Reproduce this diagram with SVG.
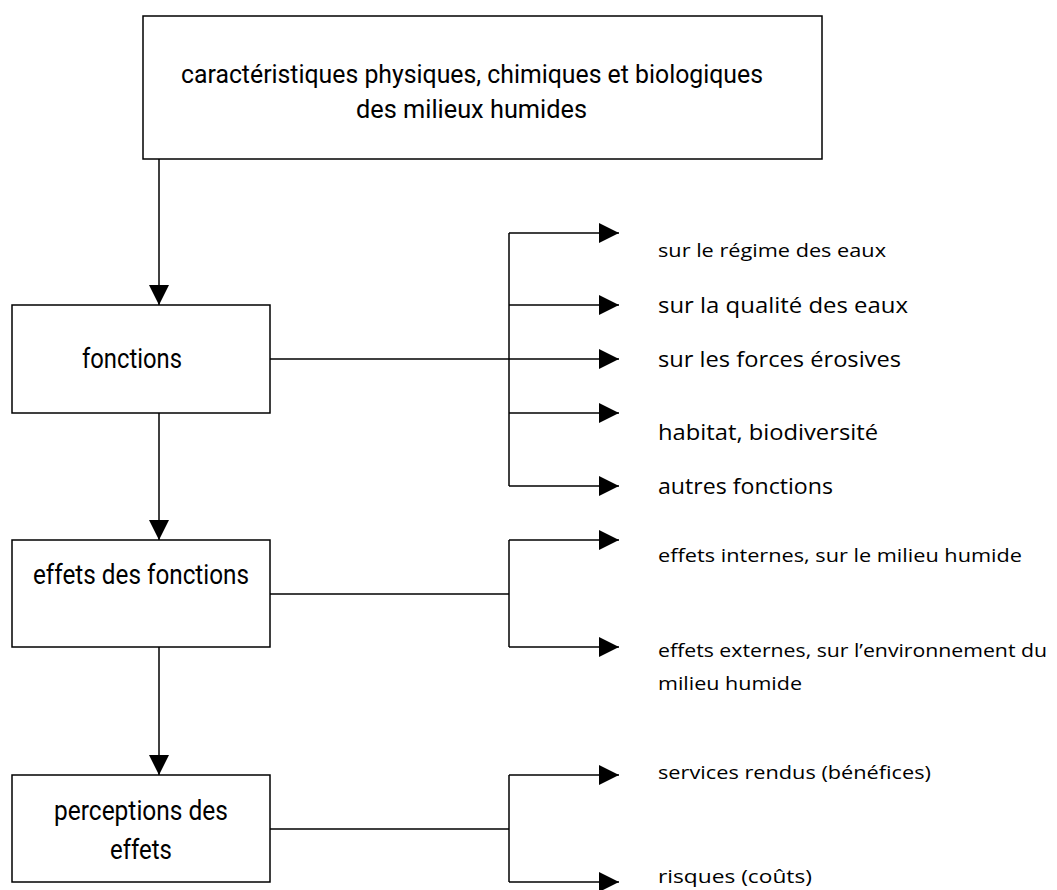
<svg xmlns="http://www.w3.org/2000/svg" width="1057" height="890" viewBox="0 0 1057 890">
<style>
.box{fill:#fff;stroke:#000;stroke-width:1.5}
.ln{fill:none;stroke:#000;stroke-width:1.5}
.bt{font-family:Roboto,"Liberation Sans",sans-serif;font-size:27px;fill:#000}
.tt{font-family:Roboto,"Liberation Sans",sans-serif;font-size:25px;fill:#000}
.lb{font-family:"Open Sans","Liberation Sans",sans-serif;font-size:19px;fill:#000}
.lg{font-family:"Open Sans","Liberation Sans",sans-serif;font-size:21px;fill:#000}
</style>
<defs>
<marker id="ah" markerUnits="userSpaceOnUse" markerWidth="20" markerHeight="20" refX="20" refY="10" orient="auto" viewBox="0 0 20 20">
<path d="M0,0 L20,10 L0,20 Z" fill="#000"/>
</marker>
</defs>
<rect width="1057" height="890" fill="#fff"/>
<g id="connectors">
<line class="ln" x1="159" y1="159" x2="159" y2="305" marker-end="url(#ah)"/>
<line class="ln" x1="159" y1="413" x2="159" y2="540" marker-end="url(#ah)"/>
<line class="ln" x1="159" y1="647" x2="159" y2="775" marker-end="url(#ah)"/>
<line class="ln" x1="270" y1="359" x2="509" y2="359"/>
<line class="ln" x1="509" y1="233" x2="509" y2="486"/>
<line class="ln" x1="509" y1="233" x2="619" y2="233" marker-end="url(#ah)"/>
<line class="ln" x1="509" y1="305" x2="619" y2="305" marker-end="url(#ah)"/>
<line class="ln" x1="509" y1="359" x2="619" y2="359" marker-end="url(#ah)"/>
<line class="ln" x1="509" y1="413" x2="619" y2="413" marker-end="url(#ah)"/>
<line class="ln" x1="509" y1="486" x2="619" y2="486" marker-end="url(#ah)"/>
<line class="ln" x1="270" y1="594" x2="509" y2="594"/>
<line class="ln" x1="509" y1="540" x2="509" y2="647"/>
<line class="ln" x1="509" y1="540" x2="619" y2="540" marker-end="url(#ah)"/>
<line class="ln" x1="509" y1="647" x2="619" y2="647" marker-end="url(#ah)"/>
<line class="ln" x1="270" y1="829" x2="509" y2="829"/>
<line class="ln" x1="509" y1="775" x2="509" y2="882"/>
<line class="ln" x1="509" y1="775" x2="619" y2="775" marker-end="url(#ah)"/>
<line class="ln" x1="509" y1="882" x2="619" y2="882" marker-end="url(#ah)"/>
</g>
<g id="caracteristiques">
<rect class="box" x="143" y="16" width="679" height="143"/>
<text class="tt" x="181" y="83" textLength="582" lengthAdjust="spacingAndGlyphs">caractéristiques physiques, chimiques et biologiques</text>
<text class="tt" x="356" y="118" textLength="231" lengthAdjust="spacingAndGlyphs">des milieux humides</text>
</g>
<g id="fonctions">
<rect class="box" x="12" y="305" width="258" height="108"/>
<text class="bt" x="82" y="368" textLength="100" lengthAdjust="spacingAndGlyphs">fonctions</text>
</g>
<g id="effets">
<rect class="box" x="12" y="540" width="258" height="107"/>
<text class="bt" x="33" y="584" textLength="216" lengthAdjust="spacingAndGlyphs">effets des fonctions</text>
</g>
<g id="perceptions">
<rect class="box" x="12" y="775" width="258" height="107"/>
<text class="bt" x="54" y="820" textLength="174" lengthAdjust="spacingAndGlyphs">perceptions des</text>
<text class="bt" x="110" y="859" textLength="62" lengthAdjust="spacingAndGlyphs">effets</text>
</g>
<g id="labels">
<text class="lb" x="658" y="257" textLength="228" lengthAdjust="spacingAndGlyphs">sur le régime des eaux</text>
<text class="lg" x="658" y="313" textLength="250" lengthAdjust="spacingAndGlyphs">sur la qualité des eaux</text>
<text class="lg" x="658" y="367" textLength="243" lengthAdjust="spacingAndGlyphs">sur les forces érosives</text>
<text class="lg" x="658" y="440" textLength="220" lengthAdjust="spacingAndGlyphs">habitat, biodiversité</text>
<text class="lg" x="658" y="494" textLength="175" lengthAdjust="spacingAndGlyphs">autres fonctions</text>
<text class="lb" x="658" y="562" textLength="364" lengthAdjust="spacingAndGlyphs">effets internes, sur le milieu humide</text>
<text class="lb" x="658" y="657" textLength="389" lengthAdjust="spacingAndGlyphs">effets externes, sur l’environnement du</text>
<text class="lb" x="658" y="690" textLength="144" lengthAdjust="spacingAndGlyphs">milieu humide</text>
<text class="lb" x="658" y="779" textLength="273" lengthAdjust="spacingAndGlyphs">services rendus (bénéfices)</text>
<text class="lb" x="658" y="883" textLength="154" lengthAdjust="spacingAndGlyphs">risques (coûts)</text>
</g>
</svg>
